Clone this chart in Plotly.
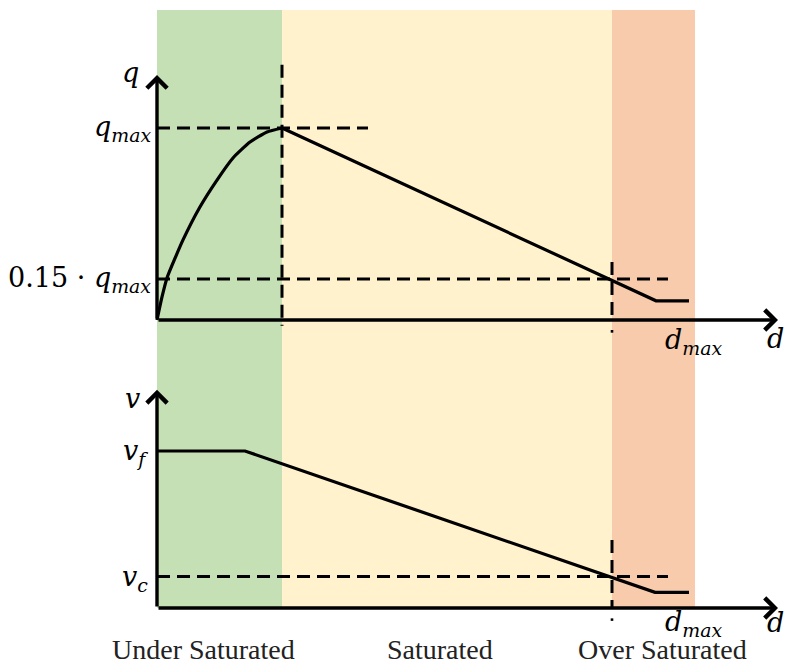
import plotly.graph_objects as go

# --- data -----------------------------------------------------------------
# density positions (d) of the regime boundaries and characteristic points
d_crit = 25.0        # density at capacity
d_cross = 91.0       # density where flow falls to the low threshold
d_knee_q = 99.8      # end of the descending flow branch
d_knee_v = 99.6      # end of the descending speed branch
d_end = 106.4        # end of the drawn curves
d_band_end = 107.6   # right edge of the over-saturated band
d_axis_end = 124.2   # tip of the d axes

# flow-density curve (q normalised by q_max)
q_rise_d = [0.0, 1.0, 2.0, 5.2, 8.5, 12.0, 15.2, 18.6, 22.0, 25.0]
q_rise_q = [0.0, 0.12, 0.219, 0.417, 0.585, 0.729, 0.844, 0.927, 0.979, 1.0]
q_fall_d = [d_crit, d_knee_q, d_end]
q_fall_q = [1.0, 0.1, 0.1]
q_max = 1.0
q_low = 0.2135

# speed-density curve (v normalised by v_f)
v_d = [0.0, 17.6, d_knee_v, d_end]
v_v = [1.0, 1.0, 0.1, 0.1]
v_f = 1.0
v_c = 0.2

regions = ["Under Saturated", "Saturated", "Over Saturated"]
region_colors = ["#C5E0B4", "#FFF2CC", "#F8CBAD"]
region_edges = [0.0, d_crit, d_cross, d_band_end]

W, H = 785, 666
SPLIT = 360  # pixel row dividing the two panels
LINE = dict(color="black", width=3.2)
DASH = dict(color="black", width=3, dash="13px,7px")
MATH = dict(family="DejaVu Serif", size=27, color="black")
TEXT = dict(family="Liberation Serif", size=28, color="#222222")

fig = go.Figure()

# flow panel
fig.add_trace(go.Scatter(x=q_rise_d, y=q_rise_q, mode="lines",
                         line=dict(color="black", width=3.2, shape="spline", smoothing=0.5),
                         xaxis="x", yaxis="y", hoverinfo="skip"))
fig.add_trace(go.Scatter(x=q_fall_d, y=q_fall_q, mode="lines", line=LINE,
                         xaxis="x", yaxis="y", hoverinfo="skip"))
# speed panel
fig.add_trace(go.Scatter(x=v_d, y=v_v, mode="lines", line=LINE,
                         xaxis="x", yaxis="y2", hoverinfo="skip"))

shapes = []
# regime bands spanning both panels
band_top = 1 - 10 / H
band_bottom = 1 - 608 / H
for i, col in enumerate(region_colors):
    shapes.append(dict(type="rect", xref="x", yref="paper",
                       x0=region_edges[i], x1=region_edges[i + 1],
                       y0=band_bottom, y1=band_top,
                       fillcolor=col, line=dict(width=0), layer="below"))

def seg(x0, y0, x1, y1, yref, style):
    shapes.append(dict(type="line", xref="x", yref=yref, x0=x0, y0=y0,
                       x1=x1, y1=y1, line=style, layer="above"))

# reference lines in the flow panel
seg(0, q_max, 42.2, q_max, "y", DASH)
seg(d_crit, 1.33, d_crit, -0.03, "y", DASH)
seg(0, q_low, 102.2, q_low, "y", DASH)
seg(d_cross, 0.302, d_cross, 0.0, "y", DASH)
seg(d_cross, -0.052, d_cross, -0.066, "y", dict(color="black", width=2.6))
# reference lines in the speed panel
seg(0, v_c, 102.2, v_c, "y2", DASH)
seg(d_cross, 0.433, d_cross, 0.0, "y2", DASH)
seg(d_cross, -0.066, d_cross, -0.082, "y2", dict(color="black", width=2.6))

annotations = []

def arrow(x, y, ax, ay, yref):
    annotations.append(dict(x=x, y=y, ax=ax, ay=ay, xref="x", yref=yref,
                            axref="x", ayref=yref, text="", showarrow=True,
                            arrowhead=4, arrowsize=1.15, arrowwidth=3.4,
                            arrowcolor="black", standoff=0, startstandoff=0))

# axes with arrow tips
arrow(d_axis_end, 0, 0, 0, "y")
arrow(0, 1.276, 0, 0, "y")
arrow(d_axis_end, 0, 0, 0, "y2")
arrow(0, 1.39, 0, 0, "y2")

def label(x, y, yref, text, xanchor="center", font=MATH):
    annotations.append(dict(x=x, y=y, xref="x", yref=yref, text=text,
                            showarrow=False, xanchor=xanchor, yanchor="middle",
                            font=font))

label(-3.3, 1.29, "y", "<i>q</i>", xanchor="right")
label(-0.8, q_max, "y", "<i>q</i><sub><i>max</i></sub>", xanchor="right")
label(-0.8, q_low, "y", "0.15 · <i>q</i><sub><i>max</i></sub>", xanchor="right")
label(123.6, -0.094, "y", "<i>d</i>")
label(107.2, -0.11, "y", "<i>d</i><sub><i>max</i></sub>")

label(-3.0, 1.337, "y2", "<i>v</i>", xanchor="right")
label(-1.5, v_f - 0.01, "y2", "<i>v</i><sub><i>f</i></sub>", xanchor="right")
label(-1.5, v_c - 0.01, "y2", "<i>v</i><sub><i>c</i></sub>", xanchor="right")
label(123.6, -0.09, "y2", "<i>d</i>")
label(107.2, -0.1, "y2", "<i>d</i><sub><i>max</i></sub>")

# regime names along the bottom edge
region_label_x = [9.2, 56.6, 101.0]
for name, xx in zip(regions, region_label_x):
    annotations.append(dict(x=xx, y=0, xref="x", yref="paper",
                            text=name, showarrow=False, xanchor="center",
                            yanchor="bottom", borderpad=0, font=TEXT))

hidden = dict(visible=False, showgrid=False, zeroline=False, fixedrange=True)
split = 1 - SPLIT / H
fig.update_layout(
    width=W, height=H,
    margin=dict(l=0, r=0, t=0, b=0, pad=0),
    paper_bgcolor="white", plot_bgcolor="rgba(0,0,0,0)",
    showlegend=False,
    xaxis=dict(range=[-157 / 5, (W - 157) / 5], domain=[0, 1], **hidden),
    yaxis=dict(range=[(320 - SPLIT) / 192, 320 / 192], domain=[split, 1], anchor="x", **hidden),
    yaxis2=dict(range=[(608 - H) / 157, (608 - SPLIT) / 157], domain=[0, split], anchor="x", **hidden),
    shapes=shapes,
    annotations=annotations,
)

fig.write_html("out.html")
